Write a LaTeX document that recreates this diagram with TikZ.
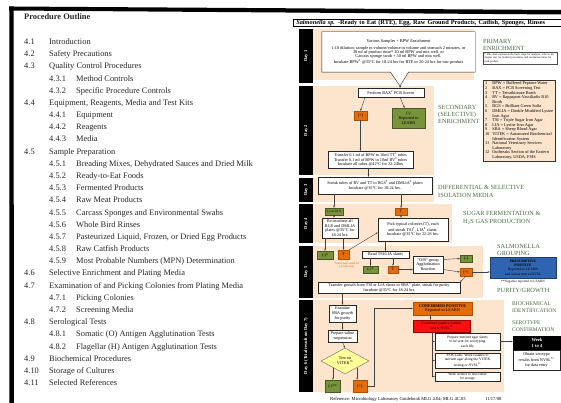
\documentclass[tikz,border=0pt]{standalone}
\usepackage{fontspec}
\setmainfont{Liberation Serif}
\usetikzlibrary{arrows.meta,calc,shapes.geometric}
\definecolor{beige}{HTML}{FCE4CD}
\definecolor{orng}{HTML}{E46C0A}
\definecolor{grn}{HTML}{77933C}
\definecolor{hdc}{HTML}{4B6743}
\definecolor{blu}{HTML}{2F64B0}
\definecolor{yel}{HTML}{FFFF99}
\definecolor{redb}{HTML}{FF1010}
\newcommand\outl[4]{%
  \pgfmathsetmacro\yy{44.5+12.18*#1}%
  \ifnum#2=0\relax
    \node[lst] (n#1) at (24,\yy) {#3};
    \node[lst] (t#1) at (49,\yy) {#4};
  \else
    \node[lst] (n#1) at (49,\yy) {#3};
    \node[lst] (t#1) at (76,\yy) {#4};
  \fi}
\newcommand\bx[7]{\node[#1, minimum width={#5-#3}, minimum height={#6-#4}] (#2) at ({(#3+#5)/2},{(#4+#6)/2}) {#7};}
\begin{document}
\begin{tikzpicture}[x=1pt,y=-1pt,
  lst/.style={anchor=base west, inner sep=0pt, text=black!85, font=\fontsize{8.4}{10}\selectfont},
  tf/.style={font=\fontsize{4.2}{4.7}\selectfont},
  wbox/.style={draw=black!85, fill=white, line width=0.45pt, align=center, inner sep=0pt, tf},
  obox/.style={draw=orng!75!black, fill=orng, line width=0.4pt, align=center, inner sep=0pt, tf},
  gbox/.style={draw=grn!60!black, fill=grn, line width=0.4pt, align=center, inner sep=0pt, tf},
  bbox/.style={draw=blu!60!black, fill=blu, line width=0.5pt, align=center, inner sep=0pt, font=\fontsize{3.6}{4.3}\selectfont},
  rbox/.style={draw=red!60!black, fill=redb, line width=0.4pt, align=center, inner sep=0pt, font=\fontsize{3.6}{4.3}\selectfont},
  kbox/.style={draw=black, fill=black, text=white, align=center, inner sep=0pt, font=\bfseries\fontsize{4.6}{5.4}\selectfont},
  bgr/.style={fill=beige},
  dayb/.style={fill=black, text=white, rotate=90, inner sep=0pt, font=\bfseries\fontsize{4.6}{5}\selectfont},
  hd/.style={anchor=west, inner sep=0pt, text=hdc, align=left, font=\fontsize{6.3}{7.4}\selectfont},
  arr/.style={draw=black!75, line width=0.4pt, -{Stealth[length=2.2pt,width=1.8pt]}},
  ln/.style={draw=black!75, line width=0.4pt},
]
\useasboundingbox (0,0) rectangle (561,403);
\clip (0,0) rectangle (561,403);
\fill[white] (0,0) rectangle (561,403);
% page frame
\fill[black] (9,6.5) -- (561,10) -- (561,14.5) -- (9,10.5) -- cycle;
\fill[black] (9.3,6.5) -- (13.5,6.5) -- (14,403) -- (9.3,403) -- cycle;
% outline list
\node[lst, font=\bfseries\fontsize{8.4}{10}\selectfont] (po) at (24,20) {Procedure Outline};
\outl{0}{0}{4.1}{Introduction}
\outl{1}{0}{4.2}{Safety Precautions}
\outl{2}{0}{4.3}{Quality Control Procedures}
\outl{3}{1}{4.3.1}{Method Controls}
\outl{4}{1}{4.3.2}{Specific Procedure Controls}
\outl{5}{0}{4.4}{Equipment, Reagents, Media and Test Kits}
\outl{6}{1}{4.4.1}{Equipment}
\outl{7}{1}{4.4.2}{Reagents}
\outl{8}{1}{4.4.3}{Media}
\outl{9}{0}{4.5}{Sample Preparation}
\outl{10}{1}{4.5.1}{Breading Mixes, Dehydrated Sauces and Dried Milk}
\outl{11}{1}{4.5.2}{Ready-to-Eat Foods}
\outl{12}{1}{4.5.3}{Fermented Products}
\outl{13}{1}{4.5.4}{Raw Meat Products}
\outl{14}{1}{4.5.5}{Carcass Sponges and Environmental Swabs}
\outl{15}{1}{4.5.6}{Whole Bird Rinses}
\outl{16}{1}{4.5.7}{Pasteurized Liquid, Frozen, or Dried Egg Products}
\outl{17}{1}{4.5.8}{Raw Catfish Products}
\outl{18}{1}{4.5.9}{Most Probable Numbers (MPN) Determination}
\outl{19}{0}{4.6}{Selective Enrichment and Plating Media}
\outl{20}{0}{4.7}{Examination of and Picking Colonies from Plating Media}
\outl{21}{1}{4.7.1}{Picking Colonies}
\outl{22}{1}{4.7.2}{Screening Media}
\outl{23}{0}{4.8}{Serological Tests}
\outl{24}{1}{4.8.1}{Somatic (O) Antigen Agglutination Tests}
\outl{25}{1}{4.8.2}{Flagellar (H) Antigen Agglutination Tests}
\outl{26}{0}{4.9}{Biochemical Procedures}
\outl{27}{0}{4.10}{Storage of Cultures}
\outl{28}{0}{4.11}{Selected References}
% ---------- flowchart ----------
\fill[bgr] (313,29) rectangle (474,80);
\fill[bgr] (313,86) rectangle (434,175);
\fill[bgr] (313,178) rectangle (434,202);
\fill[bgr] (313,204) rectangle (452,243);
\fill[bgr] (313,246) rectangle (483,298);
\fill[bgr] (313,300) rectangle (504,392);
\node[dayb, minimum width=54, minimum height=14] (day1) at (306,56) {Day 1};
\node[dayb, minimum width=89, minimum height=14] (day2) at (306,130.5) {Day 2};
\node[dayb, minimum width=24, minimum height=14] (day3) at (306,190) {Day 3};
\node[dayb, minimum width=39, minimum height=14] (day4) at (306,223.5) {Day 4};
\node[dayb, minimum width=52, minimum height=14] (day5) at (306,272) {Day 5};
\node[dayb, minimum width=92, minimum height=14] (day6) at (306,346) {Day 6 (Trial result on Day 7)};
% title
\node[draw=black, line width=0.6pt, fill=white, anchor=north west, minimum height=7.5, inner sep=0pt, text width=300, align=left, font=\bfseries\fontsize{6.3}{7}\selectfont] (title) at (293,19) {\hspace{3pt}\textit{Salmonella sp.} -Ready to Eat (RTE), Egg, Raw Ground Products, Catfish, Sponges, Rinses};
% day 1 callout
\node[fill=white, minimum width=153, minimum height=40, inner sep=0pt, align=center, font=\fontsize{4.3}{4.4}\selectfont] (d1) at (398.5,52) {Various Samples + BPW Enrichment\\[2.5pt]1:10 dilution; sample to volume/volume to volume and stomach 2 minutes, or\\30 ml of product rinse* 30 ml BPW and mix well, or\\Carcass sponge swab + 50 ml BPW and mix well.\\Incubate BPW\textsuperscript{1} @35°C for 18-24 hrs for RTE or 20-24 hrs for raw product};
\coordinate (tip) at (400,86);
\fill[white] ($(d1.south)+(-8,-0.3)$) -- (tip) -- ($(d1.south)+(10,-0.3)$) -- cycle;
\draw[ln, black!85] (d1.north west) -- (d1.north east) -- (d1.south east) -- ($(d1.south)+(10,0)$) -- (tip) -- ($(d1.south)+(-8,0)$) -- (d1.south west) -- cycle;
\node[hd] (h1) at (483,45) {PRIMARY\\ENRICHMENT};
\node[draw=black!70, fill=white, line width=0.3pt, anchor=north west, text width=72, inner sep=1.2pt, align=left, font=\fontsize{2.7}{3.2}\selectfont] (note) at (483,52.5) {* This chart represents the basic steps for analysis; refer to the chapter text for detailed procedures and incubation times for each product.};
% day 2
\bx{wbox}{bax}{358}{88}{424}{97}{Perform BAX\textsuperscript{2} PCR Screen}
\bx{obox}{p2}{354}{111}{367}{120}{(+)}
\bx{gbox}{g2}{392}{108}{425}{128}{(-)\\Reported to\\LEARN}
\bx{wbox}{tr2}{328}{151}{413}{168}{Transfer 0.1 ml of BPW to 10ml TT\textsuperscript{3} tubes\\Transfer 0.1 ml of BPW to 10ml RV\textsuperscript{4} tubes\\Incubate all tubes @42°C for 22-24hrs}
\node[hd] (h2) at (438,114.5) {SECONDARY\\(SELECTIVE)\\ENRICHMENT};
\node[draw=black!80, fill=beige, line width=0.4pt, anchor=north west, inner sep=1.5pt, minimum width=72, font=\fontsize{4.3}{4.6}\selectfont] (leg) at (483,80) {\begin{tabular}{@{}l@{\hspace{3pt}}l@{}}
1 & BPW = Buffered Peptone Water\\
2 & BAX = PCR Screening Test\\
3 & TT = Tetrathionate Broth\\
4 & RV = Rappaport-Vassiliadis R10\\
  & Broth\\
5 & BGS = Brilliant Green Sulfa\\
6 & DMLIA = Double Modified Lysine\\
  & Iron Agar\\
7 & TSI = Triple Sugar Iron Agar\\
8 & LIA = Lysine Iron Agar\\
9 & SBA = Sheep Blood Agar\\
10 & VITEK = Automated Biochemical\\
   & Identification System\\
11 & National Veterinary Services\\
   & Laboratory\\
12 & Outbreaks Section of the Eastern\\
   & Laboratory, USDA, FSIS
\end{tabular}};
% day 3
\bx{wbox}{d3}{318}{177}{432}{194}{Streak tubes of RV and TT to BGS\textsuperscript{5} and DMLIA\textsuperscript{6} plates\\Incubate @35°C for 18-24 hrs.}
\node[hd] (h3) at (438,191.5) {DIFFERENTIAL \& SELECTIVE\\ISOLATION MEDIA};
% day 4
\bx{gbox,font=\fontsize{3.6}{4}\selectfont}{g4}{325}{208}{343}{215}{(-) at 24 h}
\bx{obox}{o4}{395}{208}{407}{215}{T}
\bx{wbox}{ri}{322}{218}{358}{238}{Re-incubate all\\BGS and DMLIA\\plates @35°C for\\18-24 hrs.}
\bx{wbox}{pk}{378}{218}{448}{241}{Pick typical colonies (T), each\\and streak TSI\textsuperscript{7}, LIA\textsuperscript{8} slants.\\Incubate @35°C for 22-26 hrs.}
\node[hd] (h4) at (463,218) {SUGAR FERMENTATION \&\\H\textsubscript{2}S GAS PRODUCTION};
% day 5
\bx{gbox}{g5}{317}{251}{333}{259}{(-)*}
\bx{obox}{o5}{338}{250}{349}{259}{T}
\node[font=\fontsize{3}{3.5}\selectfont, text=orng, align=center, inner sep=0pt] (nt) at (346.5,265.5) {*both plates must be\\(-) following};
\bx{wbox}{rd}{362}{251}{409}{258}{Read TSI/LIA slants}
\bx{gbox}{g5b}{363}{266}{378}{273}{(-)*}
\bx{obox}{o5b}{388}{266}{398}{273}{T}
\bx{wbox}{ob}{413}{256}{443}{273}{“O/B” group\\Agglutination\\Reaction}
\bx{gbox}{gR}{460}{255}{472}{262}{(-)}
\bx{obox}{oR}{460}{268}{472}{276}{(+)}
\bx{bbox}{bl}{490}{257}{556}{278}{\textbf{PRESUMPTIVE}\\\textbf{POSITIVE}\\Reported to LEARN\\and isolate sent to NVSL}
\node[font=\fontsize{3.4}{4}\selectfont, inner sep=0pt] (neg) at (523,281.5) {**Negative reported to LEARN};
\bx{wbox}{sb}{318}{282}{460}{293}{Transfer growth from TSI or LIA slants to SBA\textsuperscript{9} plate, streak for purity\\Incubate @35°C for 18-24 hrs}
\node[hd] (h5) at (497,250) {SALMONELLA\\GROUPING};
\node[hd] (h6) at (497,290) {PURITY/GROWTH};
% day 6
\bx{wbox}{ex}{329}{305}{356}{322}{Examine\\SBA growth\\for purity}
\bx{wbox}{sa}{328}{330}{357}{342}{Prepare saline\\suspension}
\node[diamond, draw=black!60, fill=yel, line width=0.4pt, minimum width=48, minimum height=26, inner sep=0pt, align=center, tf] (dm) at (345,361) {Test on\\VITEK\textsuperscript{10}};
\bx{gbox}{g6}{325}{380}{340}{392}{(-)**}
\bx{obox}{o6}{353}{380}{367}{392}{(+)}
\bx{obox}{cf}{413}{302}{472}{315}{\textbf{CONFIRMED POSITIVE}\\Reported to LEARN}
\bx{rbox}{red}{413}{320}{470}{332}{Confirmed positive isolates\\sent to NVSL\textsuperscript{11}}
\bx{wbox,font=\fontsize{3.7}{4.3}\selectfont}{bA}{435}{333}{500}{350}{Prepare nutrient agar slants\\to be sent for serotyping\\each file}
\bx{wbox,font=\fontsize{3.7}{4.3}\selectfont}{bB}{435}{353}{500}{368}{FSIS Labs: Work isolates to\\nutrient agar along the VITEK\\testing or NVSL\textsuperscript{11}}
\bx{wbox,font=\fontsize{3.5}{4}\selectfont}{bC}{435}{372}{500}{381}{Work isolates to non-viable\\for storage}
\bx{kbox}{wk}{513}{336}{561}{350}{Week\\1 to 4}
\bx{wbox}{ob2}{513}{350}{560}{370}{Obtain serotype\\results from NVSL\textsuperscript{11}\\for data entry}
\node[hd, font=\fontsize{5.6}{7}\selectfont] (h7) at (512,307.5) {BIOCHEMICAL\\IDENTIFICATION};
\node[hd, font=\fontsize{5.6}{7}\selectfont] (h8) at (512,326.5) {SEROTYPE\\CONFIRMATION};
\node[anchor=base west, inner sep=0pt, font=\fontsize{4.6}{5}\selectfont] (ref) at (330,400) {Reference: Microbiology Laboratory Guidebook MLG 4.04; MLG 4C.03};
\node[anchor=base west, inner sep=0pt, font=\fontsize{4.6}{5}\selectfont] (date) at (485,400) {11/17/08};
% ---------- connectors ----------
\draw[arr] (tip) -- (tip |- bax.north);
\draw[arr] ($(bax.south)+(-26,0)$) -- (p2.north);
\draw[arr] ($(bax.south)+(9,0)$) -- ($(g2.north)+(-4,0)$);
\draw[arr] (p2.south) -- (p2.south |- tr2.north);
\coordinate (c1) at ($(tr2.south)+(-2,0)$);
\draw[arr] (c1) -- (c1 |- d3.north);
\draw[arr] (g4.north |- d3.south) -- (g4.north);
\draw[arr] (o4.north |- d3.south) -- (o4.north);
\draw[arr] (g4.south) -- (g4.south |- ri.north);
\draw[arr] (o4.south) -- (o4.south |- pk.north);
\draw[arr] (g5.north |- ri.south) -- (g5.north);
\draw[arr] (o5.north |- ri.south) -- (o5.north);
\draw[arr] (o5.north east) -- ($(pk.west)+(0,3)$);
\draw[arr] (rd.north |- pk.south) -- (rd.north);
\draw[arr] (g5b.north |- rd.south) -- (g5b.north);
\draw[arr] (o5b.north |- rd.south) -- (o5b.north);
\draw[arr] (o5b.east) -- (o5b.east -| ob.west);
\draw[arr] ($(ob.east)+(0,-5)$) -- (gR.west);
\draw[arr] ($(ob.east)+(0,5)$) -- (oR.west);
\draw[arr] (oR.east) -- (oR.east -| bl.west);
\draw[arr] (oR.south) -- (sb.north east);
\draw[arr] (ex.north |- sb.south) -- (ex.north);
\draw[arr] (ex.south) -- (ex.south |- sa.north);
\draw[arr] (sa.south) -- (dm.north);
\draw[arr] (dm.south west) -- (dm.south west |- g6.north);
\draw[arr] (dm.south east) -- (dm.south east |- o6.north);
\draw[arr] (o6.east) -- ++(7,0) |- (cf.west);
\coordinate (c2) at ($(cf.south)+(-12,0)$);
\draw[arr] (c2) -- (c2 |- red.north);
\coordinate (c3) at ($(red.south)+(-9,0)$);
\draw[ln] (c3) -- (c3 |- bC.west);
\draw[arr] (c3 |- bA.west) -- (bA.west);
\draw[arr] (c3 |- bB.west) -- (bB.west);
\draw[arr] (c3 |- bC.west) -- (bC.west);
\draw[arr] (bA.east) -- (bA.east -| wk.west);
\end{tikzpicture}
\end{document}
